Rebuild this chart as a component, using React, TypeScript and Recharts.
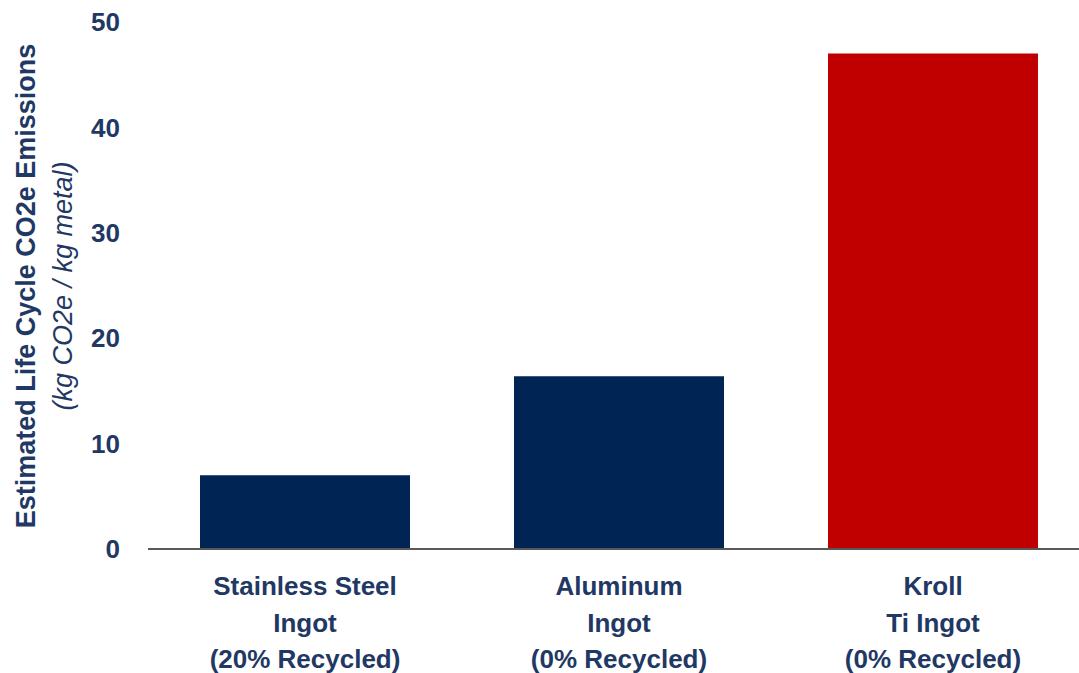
import React from 'react';
import { BarChart, Bar, XAxis, YAxis, Cell } from 'recharts';

// data
const categories = ['Stainless Steel|Ingot|(20% Recycled)', 'Aluminum|Ingot|(0% Recycled)', 'Kroll|Ti Ingot|(0% Recycled)'];
const emissions = [7.0, 16.4, 47.0];
const barColors = ['#002554', '#002554', '#C00000'];
const yTicks = [0, 10, 20, 30, 40, 50];

const data = categories.map((name, i) => ({ name, value: emissions[i] }));

const TEXT = '#1F3864';
const FONT = '"Liberation Sans", Arial, Helvetica, sans-serif';

const CategoryTick = ({ x, y, payload }: any) => {
  const lines = String(payload.value).split('|');
  return (
    <g transform={`translate(${x},${y})`}>
      {lines.map((l, i) => (
        <text
          key={i}
          x={0}
          y={29 + i * 36.5}
          textAnchor="middle"
          dominantBaseline="central"
          fill={TEXT}
          fontSize={26}
          fontWeight={700}
          fontFamily={FONT}
        >
          {l}
        </text>
      ))}
    </g>
  );
};

// two-line rotated y axis title
const YTitle = () => {
  const cy = 286;
  return (
    <g>
      <text
        transform={`translate(26,${cy}) rotate(-90)`}
        textAnchor="middle"
        dominantBaseline="central"
        fill={TEXT}
        fontSize={27}
        fontWeight={700}
        fontFamily={FONT}
      >
        Estimated Life Cycle CO2e Emissions
      </text>
      <text
        transform={`translate(63,${cy}) rotate(-90)`}
        textAnchor="middle"
        dominantBaseline="central"
        fill={TEXT}
        fontSize={27}
        fontStyle="italic"
        fontFamily={FONT}
      >
        (kg CO2e / kg metal)
      </text>
    </g>
  );
};

export default function App() {
  return (
    <div style={{ position: 'absolute', left: 0, top: 0, width: 1079, height: 673, overflow: 'hidden', background: '#fff' }}>
      <BarChart
        width={1090}
        height={673}
        data={data}
        margin={{ top: 22, right: 0, left: 48, bottom: 0 }}
        barCategoryGap={52}
      >
        <XAxis
          dataKey="name"
          interval={0}
          tickLine={false}
          axisLine={{ stroke: '#595959', strokeWidth: 2 }}
          tick={<CategoryTick />}
          height={124}
        />
        <YAxis
          width={100}
          domain={[0, 50]}
          ticks={yTicks}
          axisLine={false}
          tickLine={false}
          tickSize={0}
          tickMargin={28}
          tick={{ fill: TEXT, fontSize: 26, fontWeight: 700, fontFamily: FONT }}
          label={<YTitle />}
        />
        <Bar dataKey="value" isAnimationActive={false}>
          {data.map((d, i) => (
            <Cell key={d.name} fill={barColors[i]} />
          ))}
        </Bar>
      </BarChart>
    </div>
  );
}
